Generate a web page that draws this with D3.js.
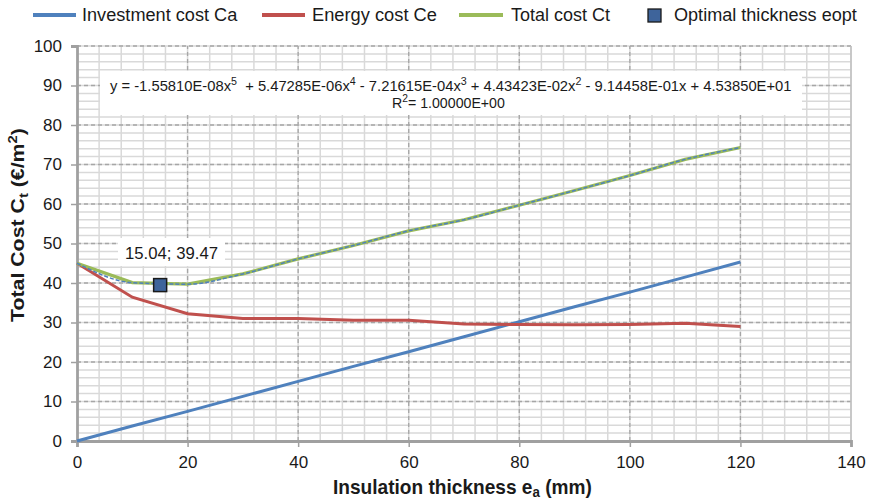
<!DOCTYPE html>
<html><head><meta charset="utf-8">
<script src="https://cdn.jsdelivr.net/npm/d3@7"></script>
<style>body{margin:0;background:#fff;font-family:"Liberation Sans",Arial,sans-serif;}</style>
</head><body><svg id="c" width="870" height="500" font-family="Liberation Sans, Arial, sans-serif"></svg>
<script>
const thickness = [0,10,20,30,40,50,60,70,80,90,100,110,120];
const investment = [0,3.8,7.5,11.3,15.1,18.9,22.6,26.4,30.2,34.0,37.7,41.5,45.3];
const energy = [45.0,36.4,32.2,31.0,31.0,30.6,30.6,29.6,29.5,29.4,29.5,29.8,29.0];
const total = [45.0,40.1,39.7,42.3,46.1,49.5,53.2,56.0,59.7,63.4,67.2,71.3,74.3];
const optimal = [15.04, 39.47];
const xTicks = [0,20,40,60,80,100,120,140];
const yTicks = [0,10,20,30,40,50,60,70,80,90,100];
const legendLabels = ["Investment cost Ca","Energy cost Ce","Total cost Ct","Optimal thickness eopt"];

const svg = d3.select("#c");
const x = d3.scaleLinear().domain([0,140]).range([77,851]);
const y = d3.scaleLinear().domain([0,100]).range([441,46]);

// squeeze a text horizontally so it spans [x0,x1]
function fit(sel, x0, x1){
  const b = sel.node().getBBox();
  const k = (x1-x0)/b.width;
  sel.attr("transform",`translate(${x0},0) scale(${k},1) translate(${-b.x},0)`);
}

// minor grid
const g = svg.append("g");
g.selectAll(".mx").data(d3.range(4,141,4)).join("line")
 .attr("x1",d=>x(d)).attr("x2",d=>x(d)).attr("y1",y(0)).attr("y2",y(100))
 .attr("stroke","#d9d9d9").attr("stroke-width",1.5);
g.selectAll(".my").data(d3.range(2,101,2)).join("line")
 .attr("y1",d=>y(d)).attr("y2",d=>y(d)).attr("x1",x(0)).attr("x2",x(140))
 .attr("stroke","#d9d9d9").attr("stroke-width",1.5);
// major grid
g.selectAll(".Mx").data(xTicks.slice(1,-1)).join("line")
 .attr("x1",d=>x(d)).attr("x2",d=>x(d)).attr("y1",y(0)).attr("y2",y(100))
 .attr("stroke","#a6a6a6").attr("stroke-width",1.3).attr("stroke-dasharray","4,3");
g.selectAll(".My").data(yTicks.slice(1)).join("line")
 .attr("y1",d=>y(d)).attr("y2",d=>y(d)).attr("x1",x(0)).attr("x2",x(140))
 .attr("stroke","#a6a6a6").attr("stroke-width",1.3).attr("stroke-dasharray","4,3");
g.append("line").attr("x1",x(140)).attr("x2",x(140)).attr("y1",y(0)).attr("y2",y(100))
 .attr("stroke","#bfbfbf").attr("stroke-width",1.5);

// axes
const xa = svg.append("g").attr("transform",`translate(0,${y(0)})`)
 .call(d3.axisBottom(x).tickValues(xTicks).tickSize(6).tickPadding(9));
const ya = svg.append("g").attr("transform",`translate(${x(0)},0)`)
 .call(d3.axisLeft(y).tickValues(yTicks).tickSize(6).tickPadding(9));
[xa,ya].forEach(a=>{
  a.select(".domain").attr("stroke","#a0a0a0").attr("stroke-width",2.8);
  a.selectAll(".tick line").attr("stroke","#a0a0a0").attr("stroke-width",1.5);
  a.selectAll("text").attr("font-family","Liberation Sans, Arial").attr("font-size",17).attr("fill","#1a1a1a");
});

// lines
const pts = arr => thickness.map((t,i)=>[t,arr[i]]);
const line = d3.line().x(d=>x(d[0])).y(d=>y(d[1]));
svg.append("path").attr("d",line(pts(investment))).attr("fill","none").attr("stroke","#4f81bd").attr("stroke-width",3);
svg.append("path").attr("d",line(pts(energy))).attr("fill","none").attr("stroke","#c0504d").attr("stroke-width",3);
svg.append("path").attr("d",line(pts(total))).attr("fill","none").attr("stroke","#9bbb59").attr("stroke-width",3.2);
// trendline
const tl = d3.line().x(d=>x(d[0])).y(d=>y(d[1])).curve(d3.curveMonotoneX);
svg.append("path").attr("d",tl(pts(total))).attr("fill","none").attr("stroke","#4f81bd")
 .attr("stroke-width",1.5).attr("stroke-dasharray","4,2");

// optimum marker
svg.append("rect").attr("x",x(optimal[0])-6.5).attr("y",y(optimal[1])-6.5).attr("width",13).attr("height",13)
 .attr("fill","#3e649b").attr("stroke","#1a1a1a").attr("stroke-width",1.5);
svg.append("rect").attr("x",118).attr("y",238).attr("width",107).attr("height",28).attr("fill","#fff");
const lab = svg.append("text").attr("x",0).attr("y",259).attr("font-size",17)
 .attr("fill","#1a1a1a").text(optimal.join("; "));
fit(lab,125,218);

// equation box
svg.append("rect").attr("x",100).attr("y",71).attr("width",702).attr("height",44).attr("fill","#fff");
const eq = svg.append("text").attr("x",0).attr("y",91).attr("font-size",14.5).attr("fill","#1a1a1a").style("white-space","pre");
const parts = [["y = -1.55810E-08x",""],["5","s"],["  + 5.47285E-06x",""],["4","s"],[" - 7.21615E-04x",""],["3","s"],[" + 4.43423E-02x",""],["2","s"],[" - 9.14458E-01x + 4.53850E+01",""]];
parts.forEach((p,i)=>{
  const ts = eq.append("tspan").text(p[0]);
  if(p[1]==="s") ts.attr("font-size",10.5).attr("dy",-6);
  else if(i>0) ts.attr("dy",6);
});
fit(eq,110,792);
const r2 = svg.append("text").attr("x",0).attr("y",108.5).attr("font-size",14.5).attr("fill","#1a1a1a");
r2.append("tspan").text("R");
r2.append("tspan").text("2").attr("font-size",10.5).attr("dy",-6);
r2.append("tspan").text("= 1.00000E+00").attr("dy",6);
fit(r2,392,505);

// legend
const legColors = ["#4f81bd","#c0504d","#9bbb59","#3e649b"];
const legSym = [[33,76],[262,305],[459,503],[648,661]];
const legText = [[82,238],[312,437],[511,610],[674,857]];
legendLabels.forEach((t,i)=>{
  if(i<3) svg.append("line").attr("x1",legSym[i][0]).attr("x2",legSym[i][1]).attr("y1",15).attr("y2",15).attr("stroke",legColors[i]).attr("stroke-width",4);
  else svg.append("rect").attr("x",legSym[i][0]).attr("y",9).attr("width",13).attr("height",13).attr("fill",legColors[i]).attr("stroke","#1a1a1a").attr("stroke-width",1.3);
  const tx = svg.append("text").attr("x",0).attr("y",21.5).attr("font-size",18.5).attr("fill","#1a1a1a").text(t);
  fit(tx,legText[i][0],legText[i][1]);
});

// axis titles
const xt = svg.append("text").attr("x",0).attr("y",494).attr("font-size",20).attr("font-weight","bold").attr("fill","#1a1a1a");
xt.append("tspan").text("Insulation thickness e");
xt.append("tspan").text("a").attr("font-size",14).attr("dy",3);
xt.append("tspan").text(" (mm)").attr("dy",-3);
fit(xt,333,592);
const ytg = svg.append("g").attr("transform","translate(23.5,322) rotate(-90)");
const yt = ytg.append("text").attr("x",0).attr("y",0).attr("font-size",18).attr("font-weight","bold").attr("fill","#1a1a1a");
yt.append("tspan").text("Total Cost C");
yt.append("tspan").text("t").attr("font-size",12.5).attr("dy",4);
yt.append("tspan").text(" (€/m").attr("dy",-4);
yt.append("tspan").text("2").attr("font-size",12.5).attr("dy",-7);
yt.append("tspan").text(")").attr("dy",7);
fit(yt,0,194);
</script></body></html>
